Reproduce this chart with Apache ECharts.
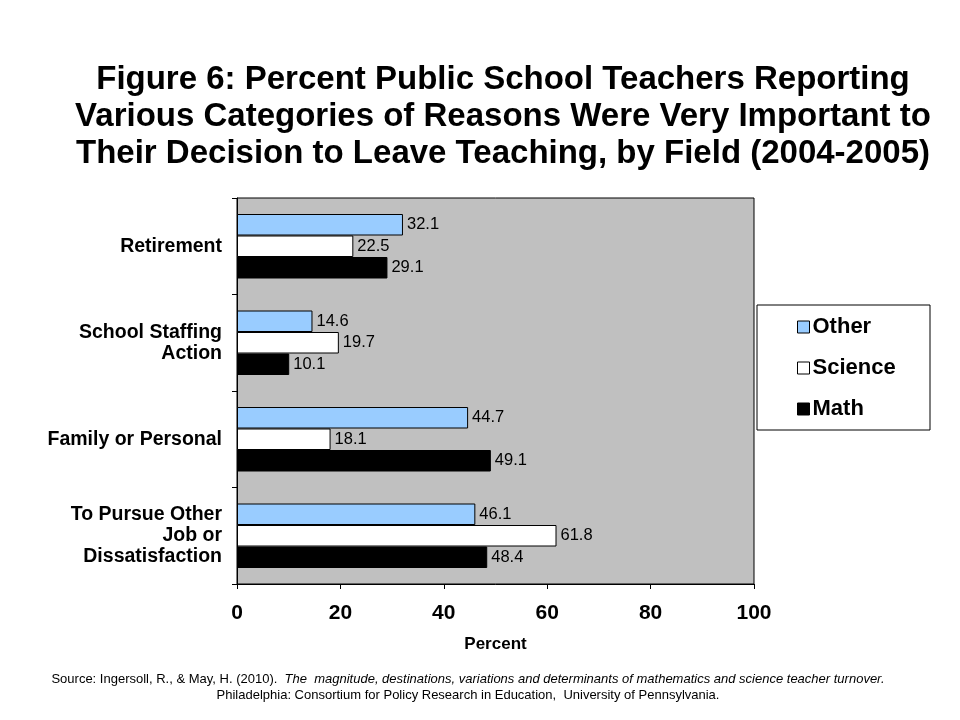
<!DOCTYPE html>
<html><head><meta charset="utf-8">
<script src="https://cdn.jsdelivr.net/npm/echarts@6/dist/echarts.min.js"></script>
<style>html,body{margin:0;padding:0;background:#fff}#c{width:960px;height:720px}</style>
</head><body><div id="c"></div>
<script>
const categories = ["Retirement", "School Staffing\nAction", "Family or Personal", "To Pursue Other\nJob or\nDissatisfaction"];
const seriesNames = ["Other", "Science", "Math"];
const otherValues = [32.1, 14.6, 44.7, 46.1];
const scienceValues = [22.5, 19.7, 18.1, 61.8];
const mathValues = [29.1, 10.1, 49.1, 48.4];
const xTicks = [0, 20, 40, 60, 80, 100];

const chart = echarts.init(document.getElementById('c'));
const F = '"Liberation Sans", Arial, sans-serif';
const colors = ['#99CCFF', '#FFFFFF', '#000000'];
const vals = [otherValues, scienceValues, mathValues];

chart.setOption({
  animation: false,
  backgroundColor: '#fff',
  title: [{
    text: 'Figure 6: Percent Public School Teachers Reporting\nVarious Categories of Reasons Were Very Important to\nTheir Decision to Leave Teaching, by Field (2004-2005)',
    left: 498, top: 56, textAlign: 'center',
    textStyle: {fontFamily: F, fontWeight: 'bold', fontSize: 33, lineHeight: 37, color: '#000'}
  }, {
    text: '{n|Source: Ingersoll, R., & May, H. (2010).  }{i|The  magnitude, destinations, variations and determinants of mathematics and science teacher turnover.}\n{n|Philadelphia: Consortium for Policy Research in Education,  University of Pennsylvania.}',
    left: 463, top: 666, textAlign: 'center',
    textStyle: {
      fontFamily: F, fontSize: 13, fontWeight: 'normal', lineHeight: 16, color: '#000',
      rich: {n: {fontFamily: F, fontSize: 13, fontWeight: 'normal', lineHeight: 16, color: '#000'},
             i: {fontFamily: F, fontSize: 13, fontWeight: 'normal', lineHeight: 16, fontStyle: 'italic', color: '#000'}}
    }
  }],
  graphic: [{
    type: 'rect', shape: {x: 757, y: 305, width: 173, height: 125},
    style: {fill: '#fff', stroke: '#000', lineWidth: 1}, z: 0
  }],
  legend: {
    orient: 'vertical', left: 792, top: 311, itemGap: 19,
    itemWidth: 12, itemHeight: 12, icon: 'rect',
    textStyle: {fontFamily: F, fontWeight: 'bold', fontSize: 22, color: '#000', padding: [0, 0, 0, -2]},
    data: seriesNames.map((n, i) => ({name: n, itemStyle: {color: colors[i], borderColor: '#000', borderWidth: 1}}))
  },
  grid: {left: 237, top: 198, width: 517, height: 386, show: true, backgroundColor: '#C0C0C0', borderColor: '#000', borderWidth: 1},
  xAxis: {
    type: 'value', min: 0, max: 100, interval: 20,
    name: 'Percent', nameLocation: 'middle', nameGap: 52,
    nameTextStyle: {fontFamily: F, fontWeight: 'bold', fontSize: 17, color: '#000'},
    axisLine: {show: true, lineStyle: {color: '#000'}},
    axisTick: {show: true, length: 5, lineStyle: {color: '#000'}},
    splitLine: {show: false},
    axisLabel: {fontFamily: F, fontWeight: 'bold', fontSize: 21, color: '#000', margin: 19,
      formatter: v => xTicks.includes(v) ? String(v) : ''}
  },
  yAxis: {
    type: 'category', data: categories, inverse: true,
    axisLine: {show: true, lineStyle: {color: '#000'}},
    axisTick: {show: true, length: 5, lineStyle: {color: '#000'}},
    axisLabel: {fontFamily: F, fontWeight: 'bold', fontSize: 19.5, lineHeight: 21, color: '#000', margin: 15, align: 'right'}
  },
  series: seriesNames.map((n, i) => ({
    name: n, type: 'bar', data: vals[i],
    barWidth: 21.5, barGap: '0%',
    itemStyle: {color: colors[i], borderColor: '#000', borderWidth: 1},
    label: {show: true, position: 'right', distance: 4, fontFamily: F, fontSize: 16.5, color: '#000', formatter: p => p.value.toFixed(1)}
  }))
});
</script></body></html>
